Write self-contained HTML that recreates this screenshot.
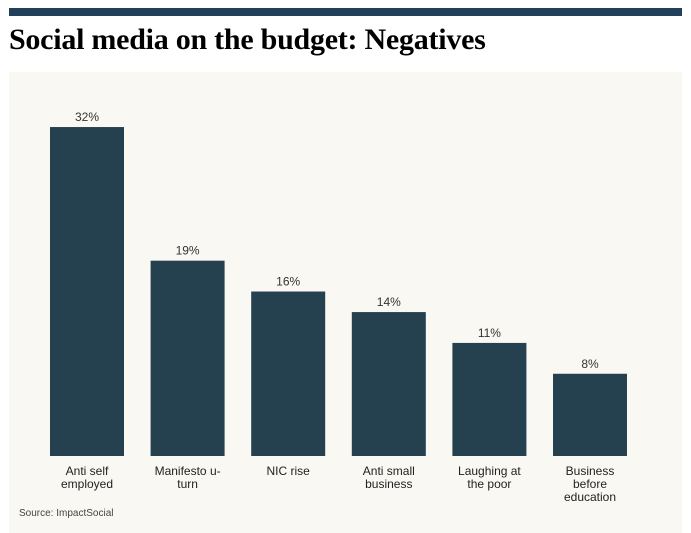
<!DOCTYPE html>
<html><head><meta charset="utf-8"><style>
body{margin:0;width:691px;height:533px;background:#fff;position:relative;overflow:hidden;font-family:"Liberation Sans",sans-serif}
#bar{position:absolute;left:9px;top:8px;width:673px;height:8px;background:#22405a}
#title{position:absolute;left:9px;top:23px;font:bold 30px "Liberation Serif",serif;letter-spacing:-0.25px;color:#000;margin:0;white-space:nowrap}
#panel{position:absolute;left:9px;top:72px;width:673px;height:461px;background:#faf8f3}
#src{position:absolute;left:19px;top:508px;font-size:10px;color:#444}
</style></head><body>
<div id="bar"></div>
<h1 id="title">Social media on the budget: Negatives</h1>
<div id="panel"></div>
<svg id="chart" width="691" height="533" style="position:absolute;left:0;top:0"></svg>
<div id="src">Source: ImpactSocial</div>
<script>
const categories=[["Anti self","employed"],["Manifesto u-","turn"],["NIC rise"],["Anti small","business"],["Laughing at","the poor"],["Business","before","education"]];
const values=[32,19,16,14,11,8];
const valueLabels=["32%","19%","16%","14%","11%","8%"];
const svg=document.getElementById('chart');
const NS="http://www.w3.org/2000/svg";
const baseY=456, pxPer=10.28, x0=50, step=100.6, bw=74;
const y=v=>baseY-v*pxPer;
const x=i=>x0+i*step;
values.forEach((v,i)=>{
 const r=document.createElementNS(NS,'rect');
 r.setAttribute('x',x(i));r.setAttribute('y',y(v));r.setAttribute('width',bw);r.setAttribute('height',baseY-y(v));r.setAttribute('fill','#25404f');
 
 
 svg.appendChild(r);
 const t=document.createElementNS(NS,'text');
 t.setAttribute('x',x(i)+bw/2);t.setAttribute('y',y(v)-6);t.setAttribute('text-anchor','middle');t.setAttribute('font-size','12');t.setAttribute('fill','#333');t.setAttribute('font-family','Liberation Sans, sans-serif');
 t.textContent=valueLabels[i];
 
 
 svg.appendChild(t);
 categories[i].forEach((line,j)=>{
  const c=document.createElementNS(NS,'text');
  c.setAttribute('x',x(i)+bw/2);c.setAttribute('y',475+j*13);c.setAttribute('text-anchor','middle');c.setAttribute('font-size','12');c.setAttribute('fill','#222');c.setAttribute('font-family','Liberation Sans, sans-serif');
  c.textContent=line;
  
  
  svg.appendChild(c);
 });
});
</script>
</body></html>
